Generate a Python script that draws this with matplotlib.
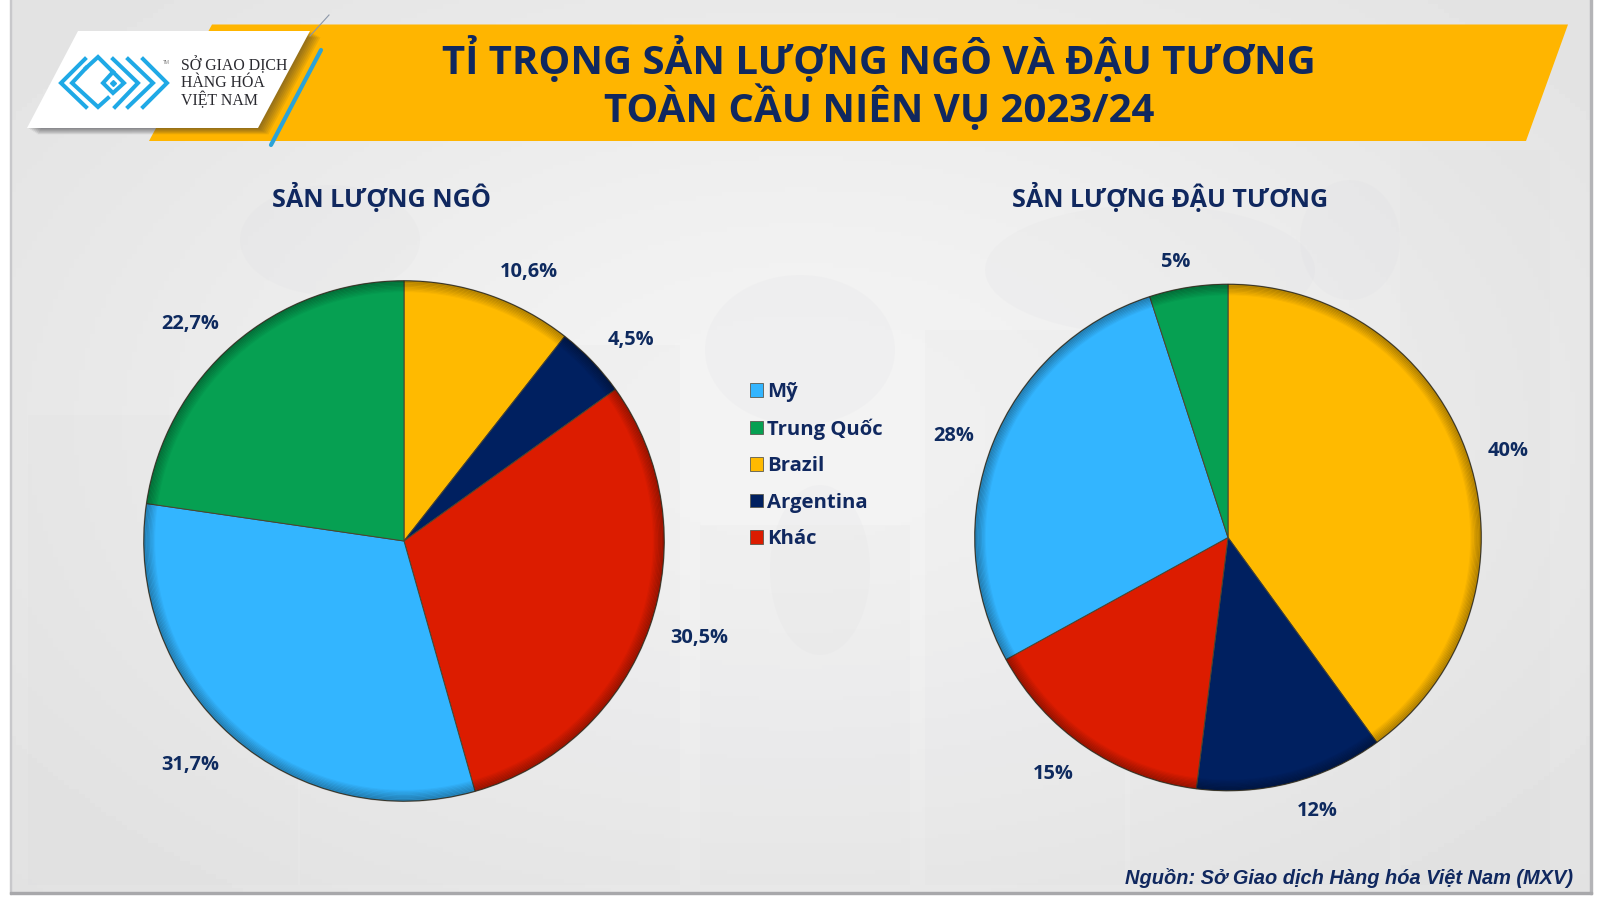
from matplotlib import pyplot as plt
from matplotlib.patches import Polygon, Rectangle, Circle, Ellipse
import numpy as np

# data
countries = ['Mỹ', 'Trung Quốc', 'Brazil', 'Argentina', 'Khác']
corn_share = [31.7, 22.7, 10.6, 4.5, 30.5]
soy_share = [28, 5, 40, 12, 15]
country_colors = ['#33b5ff', '#06a052', '#ffba00', '#002060', '#dc1c00']

title_lines = ['TỈ TRỌNG SẢN LƯỢNG NGÔ VÀ ĐẬU TƯƠNG', 'TOÀN CẦU NIÊN VỤ 2023/24']
corn_title = 'SẢN LƯỢNG NGÔ'
soy_title = 'SẢN LƯỢNG ĐẬU TƯƠNG'
source_text = 'Nguồn: Sở Giao dịch Hàng hóa Việt Nam (MXV)'
logo_lines = ['SỞ GIAO DỊCH', 'HÀNG HÓA', 'VIỆT NAM']

W, H = 1600, 900
NAVY = '#0e2a5f'
TITLE_NAVY = '#10285f'

plt.rcParams['font.family'] = ['Open Sans', 'Noto Sans', 'DejaVu Sans']

fig = plt.figure(figsize=(16, 9), dpi=100, facecolor='white')
bg = fig.add_axes([0, 0, 1, 1], zorder=0)
bg.axis('off')

# page background with light centre
yy, xx = np.mgrid[0:1:200j, 0:1:300j]
glow = np.exp(-(((xx - 0.5) / 0.55) ** 2 + ((yy - 0.48) / 0.6) ** 2))
bg.imshow(0.868 + 0.085 * glow, cmap='gray', vmin=0, vmax=1, extent=(11, 1591, 892, 0), aspect='auto', zorder=0)
bg.set_xlim(0, W)
bg.set_ylim(H, 0)
bg.add_patch(Rectangle((10, -2), 1, 896, color='#c8c8cb', zorder=0.5))
bg.add_patch(Rectangle((1590, -2), 2, 896, color='#b4b4b7', zorder=0.5))
bg.add_patch(Rectangle((10, 892), 1582, 2, color='#a8a8ab', zorder=0.5))

# faint buildings and map shapes behind the pies
for x, y, w, h in [(28, 415, 270, 470), (300, 345, 380, 540), (700, 525, 210, 360),
                   (925, 330, 200, 555), (1130, 420, 260, 465), (1400, 150, 150, 735)]:
    bg.add_patch(Rectangle((x, y), w, h, color='#d2d2d6', alpha=0.08, lw=0, zorder=0.6))
for x, y, w, h in [(800, 350, 190, 150), (820, 570, 100, 170), (1150, 270, 330, 130),
                   (330, 240, 180, 110), (1350, 240, 100, 120)]:
    bg.add_patch(Ellipse((x, y), w, h, color='#d8d8dc', alpha=0.12, lw=0, zorder=0.7))

# title banner
bg.add_patch(Polygon([(212, 24.5), (1568, 24.5), (1526, 141), (149, 141)], color='#ffb500', lw=0, zorder=1))
bg.text(879, 60, title_lines[0], ha='center', va='center', fontsize=28.9, fontweight='bold', color=TITLE_NAVY, zorder=5)
bg.text(879, 108, title_lines[1], ha='center', va='center', fontsize=28.9, fontweight='bold', color=TITLE_NAVY, zorder=5)

# logo plate with soft shadow
for k in range(1, 8):
    bg.add_patch(Polygon([(27 + k * 1.5, 128 + k * 0.9), (258 + k * 1.5, 128 + k * 0.9),
                          (310 + k * 1.5, 31 + k * 0.9), (78 + k * 1.5, 31 + k * 0.9)],
                         color='#303035', alpha=0.09, lw=0, zorder=2))
bg.add_patch(Polygon([(27, 128), (258, 128), (310, 31), (78, 31)], color='white', lw=0, zorder=3))
bg.plot([271, 321], [145, 50], color='#2ba3d8', lw=3, zorder=4, solid_capstyle='round')
bg.plot([310, 329], [36, 15], color='#8c97a8', lw=0.8, zorder=4)

# logo mark, chevrons
logo_blue = '#1fa9e6'
chevrons = [
    [(85, 59), (61, 83), (86, 107)],
    [(86, 68), (72, 83), (98, 107), (108, 98)],
    [(86, 68), (98, 57), (124, 83), (113, 93), (103, 83), (113, 72)],
    [(113, 59), (138, 83), (115, 107)],
    [(128, 59), (153, 83), (128, 107)],
    [(143, 59), (167, 83), (143, 107)],
]
for line in chevrons:
    xs, ys = zip(*line)
    bg.plot(xs, ys, color=logo_blue, lw=2.9, solid_joinstyle='miter', zorder=4)
bg.plot([113], [83], marker='D', ms=3, color=logo_blue, zorder=4)
for i, s in enumerate(logo_lines):
    bg.text(181, 65.5 + i * 17.6, s, ha='left', va='center', fontsize=11.4, color='#2a2a30',
            family=['Liberation Serif', 'DejaVu Sans'], zorder=5)
bg.text(163, 62, 'TM', ha='left', va='center', fontsize=3.5, color='#777777', zorder=5)

# subtitles
bg.text(382, 197.5, corn_title, ha='center', va='center', fontsize=18.1, fontweight='bold', color=TITLE_NAVY)
bg.text(1170, 197.5, soy_title, ha='center', va='center', fontsize=18.0, fontweight='bold', color=TITLE_NAVY)


def format_share(value, decimals):
    return f'{value:.{decimals}f}%'.replace('.', ',')


def draw_pie(values, cx, cy, radius, start_index):
    ax = fig.add_axes([(cx - radius) / W, 1 - (cy + radius) / H, 2 * radius / W, 2 * radius / H], zorder=2)
    # go round clockwise from 12 o'clock, beginning with Brazil
    order = [(start_index + i) % len(values) for i in range(len(values))]
    ax.pie([values[i] for i in order], colors=[country_colors[i] for i in order],
           startangle=90, counterclock=False, radius=0.995,
           wedgeprops={'edgecolor': '#4a4430', 'linewidth': 0.7})
    ax.set_xlim(-1, 1)
    ax.set_ylim(-1, 1)
    ax.set_aspect('equal')
    ax.patch.set_alpha(0)
    # darker rim, the bevel of the original
    for j in range(9):
        ax.add_patch(Circle((0, 0), 0.995 - j * 0.005, fill=False, edgecolor='black',
                            linewidth=1.2, alpha=0.26 - j * 0.028))


draw_pie(corn_share, 404, 541, 261.5, 2)
draw_pie(soy_share, 1228, 537.5, 254.5, 2)

# value labels sit at hand-read spots around each pie
corn_label_pos = [(190, 765), (190, 324), (529, 272), (631, 340), (699, 638)]
soy_label_pos = [(957, 436), (1179, 262), (1511, 451), (1320, 811), (1056, 774)]
for value, (x, y) in zip(corn_share, corn_label_pos):
    bg.text(x, y, format_share(value, 1), ha='center', va='center', fontsize=14.4, fontweight='bold', color=NAVY, zorder=5)
for value, (x, y) in zip(soy_share, soy_label_pos):
    bg.text(x - 3, y, format_share(value, 0), ha='center', va='center', fontsize=14.4, fontweight='bold', color=NAVY, zorder=5)

# legend between the pies
legend_handles = [Rectangle((0, 0), 1, 1, facecolor=c, edgecolor='#5a5a50', linewidth=0.6) for c in country_colors]
fig.legend(legend_handles, countries, loc='upper left', bbox_to_anchor=(750 / W, 1 - 382 / H), frameon=False,
           prop={'size': 14.6, 'weight': 'bold'}, labelcolor=TITLE_NAVY, handlelength=0.65, handleheight=0.65,
           handletextpad=0.2, labelspacing=0.81, borderpad=0, borderaxespad=0)

bg.text(1573, 878, source_text, ha='right', va='center', fontsize=14.4, fontweight='bold', style='italic',
        color='#10285f', family=['Liberation Sans', 'DejaVu Sans'], zorder=5)

fig.savefig('out.png', dpi=100)
